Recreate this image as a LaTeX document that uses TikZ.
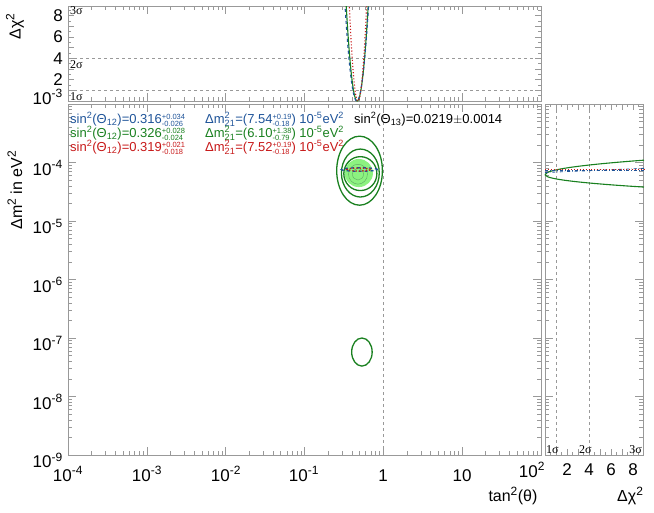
\documentclass[tikz,border=0pt]{standalone}
\usepackage{amsmath}
\usepackage{fontspec}
\setmainfont{Liberation Sans}
\newfontfamily\serifsig{Liberation Serif}
\usepackage{tikz}

\definecolor{fitblue}{rgb}{0.12,0.33,0.60}
\definecolor{fitgreen}{rgb}{0.10,0.50,0.12}
\definecolor{fitred}{rgb}{0.78,0.10,0.10}
\definecolor{fillgreen}{rgb}{0.55,0.95,0.50}

\newcommand{\errs}[2]{\raisebox{-0.55ex}{\fontsize{7.5}{6.3}\selectfont\begin{tabular}[b]{@{}l@{}}#1\\#2\end{tabular}}}

\tikzset{
  frame/.style={draw=gray!80,line width=0.6pt},
  tick/.style={draw=gray!80,line width=0.5pt},
  guide/.style={draw=gray!80,dashed,line width=0.4pt},
  ticklab/.style={font=\fontsize{17}{17}\selectfont,inner sep=0pt},
  sig/.style={font=\serifsig\fontsize{12}{12}\selectfont,inner sep=1pt},
  leg/.style={font=\fontsize{13}{13}\selectfont,anchor=base west,inner sep=0pt}
}

\begin{document}
\begin{tikzpicture}[x=1pt,y=-1pt]
\useasboundingbox (0,0) rectangle (654,512);

% frames
\draw[frame] (68,6) rectangle (541,101);
\draw[frame] (68,104) rectangle (541,455);
\draw[frame] (545,104) rectangle (643,455);

% guide lines
\draw[guide] (383.2,104) -- (383.2,455);
\draw[guide] (383.2,6) -- (383.2,101);
\draw[guide] (68,90.3) -- (541,90.3);
\draw[guide] (68,58.3) -- (541,58.3);
\draw[guide] (556,104) -- (556,455);
\draw[guide] (589,104) -- (589,455);

% log ticks along tan^2
\foreach \dec in {-4,...,1}
  \foreach \k in {1,...,9} {
    \pgfmathsetmacro\px{383.2+78.8*(\dec+log10(\k))}
    \pgfmathsetmacro\tl{\k==1?8:4}
    \draw[tick] (\px,455) -- ++(0,-\tl) (\px,104) -- ++(0,\tl)
                (\px,101) -- ++(0,-\tl) (\px,6) -- ++(0,\tl);
  }
% log ticks along dm^2
\foreach \dec in {-9,...,-4}
  \foreach \k in {1,...,9} {
    \pgfmathsetmacro\py{-71.5-58.5*(\dec+log10(\k))}
    \pgfmathsetmacro\tl{\k==1?8:4}
    \draw[tick] (68,\py) -- ++(\tl,0) (541,\py) -- ++(-\tl,0)
                (545,\py) -- ++(\tl,0) (643,\py) -- ++(-\tl,0);
  }
% linear chi2 ticks
\foreach \v in {0,...,17} {
  \pgfmathsetmacro\tl{mod(\v,2)==0?6:3}
  \pgfmathsetmacro\py{101-10.67*\v/2}
  \pgfmathsetmacro\px{545+11*\v/2}
  \draw[tick] (68,\py) -- ++(\tl,0) (541,\py) -- ++(-\tl,0)
              (\px,455) -- ++(0,-\tl) (\px,104) -- ++(0,\tl);
}

% tick labels
\node[ticklab] (xa) at (68,474) {10$^{\text{\large -4}}$};
\node[ticklab] (xb) at (147,474) {10$^{\text{\large -3}}$};
\node[ticklab] (xc) at (226,474) {10$^{\text{\large -2}}$};
\node[ticklab] (xd) at (304,474) {10$^{\text{\large -1}}$};
\node[ticklab] (xe) at (383,476) {1};
\node[ticklab] (xf) at (462,476) {10};
\node[ticklab] (xg) at (532,470) {10$^{\text{\large 2}}$};
\foreach \v/\nm in {2/ra,4/rb,6/rc,8/rd}
  \node[ticklab] (\nm) at (545+11*\v,470) {\v};
\foreach \dec/\nm in {-9/ya,-8/yb,-7/yc,-6/yd,-5/ye,-4/yf}
  \node[ticklab,anchor=east] (\nm) at (63,-66-58.5*\dec) {10$^{\text{\large \dec}}$};
\foreach \v/\nm in {2/ta,4/tb,6/tc,8/td}
  \node[ticklab,anchor=east] (\nm) at (63,101-10.67*\v) {\v};
\node[ticklab,anchor=east] (tz) at (63,97) {10$^{\text{\large -3}}$};

% sigma labels
\node[sig,anchor=north west] (s1) at (69,91) {1σ};
\node[sig,anchor=north west] (s2) at (69,59) {2σ};
\node[sig,anchor=north west] (s3) at (69,5) {3σ};
\node[sig,anchor=south west] (r1) at (545,455) {1σ};
\node[sig,anchor=south west] (r2) at (578,455) {2σ};
\node[sig,anchor=south east] (r3) at (643,455) {3σ};

% axis titles
\node[font=\fontsize{16}{16}\selectfont,rotate=90] (ttop) at (15,26) {Δχ$^{\text{\large 2}}$};
\node[font=\fontsize{16}{16}\selectfont,rotate=90] (tdm) at (15,190) {Δm$^{\text{\large 2}}$ in eV$^{\text{\large 2}}$};
\node[font=\fontsize{16}{16}\selectfont,anchor=east] (ttan) at (541,496) {tan$^{\text{\large 2}}$(θ)};
\node[font=\fontsize{16}{16}\selectfont,anchor=east] (tchi) at (647,496) {Δχ$^{\text{\large 2}}$};

% legend
\node[leg,fitblue] (lb1) at (70,123) {sin$^{\text{2}}$(Θ$_{\text{12}}$)=0.316\errs{+0.034}{-0.026}};
\node[leg,fitgreen] (lg1) at (70,137) {sin$^{\text{2}}$(Θ$_{\text{12}}$)=0.326\errs{+0.028}{-0.024}};
\node[leg,fitred] (lr1) at (70,151) {sin$^{\text{2}}$(Θ$_{\text{12}}$)=0.319\errs{+0.021}{-0.018}};
\node[leg,fitblue] (lb2) at (205,123) {Δm$^{\text{2}}_{\text{21}}$=(7.54\errs{+0.19}{-0.18}) 10$^{\text{-5}}$eV$^{\text{2}}$};
\node[leg,fitgreen] (lg2) at (205,137) {Δm$^{\text{2}}_{\text{21}}$=(6.10\errs{+1.38}{-0.79}) 10$^{\text{-5}}$eV$^{\text{2}}$};
\node[leg,fitred] (lr2) at (205,151) {Δm$^{\text{2}}_{\text{21}}$=(7.52\errs{+0.19}{-0.18}) 10$^{\text{-5}}$eV$^{\text{2}}$};
\node[leg] (lt13) at (354,123) {sin$^{\text{2}}$(Θ$_{\text{13}}$)=0.0219$\pm$0.0014};

% contours in (log tan^2, log dm^2)
\begin{scope}[shift={(383.2,-71.5)},x=78.8pt,y=58.5pt]
  \fill[fillgreen] (-0.31,-4.18) ellipse [x radius=0.18,y radius=0.24];
  \draw[fitgreen!70,line width=0.4pt] (-0.32,-4.2) ellipse [x radius=0.12,y radius=0.17];
  \draw[fitgreen!70,line width=0.4pt] (-0.32,-4.2) ellipse [x radius=0.07,y radius=0.1];
  \draw[fitgreen,line width=1.3pt] (-0.30,-4.14) ellipse [x radius=0.29,y radius=0.59];
  \draw[fitgreen,line width=1.3pt] (-0.29,-4.18) ellipse [x radius=0.24,y radius=0.41];
  \draw[fitgreen,line width=1.3pt] (-0.29,-4.19) ellipse [x radius=0.21,y radius=0.29];
  \draw[fitgreen,line width=1.3pt] (-0.27,-7.24) ellipse [x radius=0.13,y radius=0.24];
  \draw[fitblue,dashed,line width=1.3pt] (-0.30,-4.12) ellipse [x radius=0.23,y radius=0.03];
  \draw[fitred,dotted,line width=1.3pt] (-0.31,-4.12) ellipse [x radius=0.15,y radius=0.025];
\end{scope}

% top profile
\begin{scope}
  \clip (68,6) rectangle (541,101);
  \begin{scope}[shift={(383.2,101)},x=78.8pt,y=10.67pt]
    \draw[fitgreen,line width=1.1pt] plot[domain=-0.5:-0.14,samples=60] (\x,{9*((\x+0.33)/0.14)^2});
    \draw[fitblue,dashed,line width=1.1pt] plot[domain=-0.52:-0.14,samples=60] (\x,{9*((\x+0.335)/0.15)^2});
    \draw[fitred,dotted,line width=1.1pt] plot[domain=-0.45:-0.2,samples=60] (\x,{9*((\x+0.32)/0.11)^2});
  \end{scope}
\end{scope}

% right profile
\begin{scope}[shift={(545,-71.5)},x=11pt,y=58.5pt]
  \draw[fitgreen,line width=1.1pt] plot[domain=0:9,samples=40] (\x,{-4.21+0.25*sqrt(\x/9)});
  \draw[fitgreen,line width=1.1pt] plot[domain=0:9,samples=40] (\x,{-4.21-0.21*sqrt(\x/9)});
  \draw[fitblue,dashdotted,line width=0.9pt] (0,-4.14) -- (9,-4.14);
  \draw[fitblue,dashdotted,line width=0.9pt] (0,-4.17) -- (9,-4.10);
  \draw[fitred,dotted,line width=0.9pt] (0,-4.12) -- (9,-4.12);
\end{scope}
\end{tikzpicture}
\end{document}
